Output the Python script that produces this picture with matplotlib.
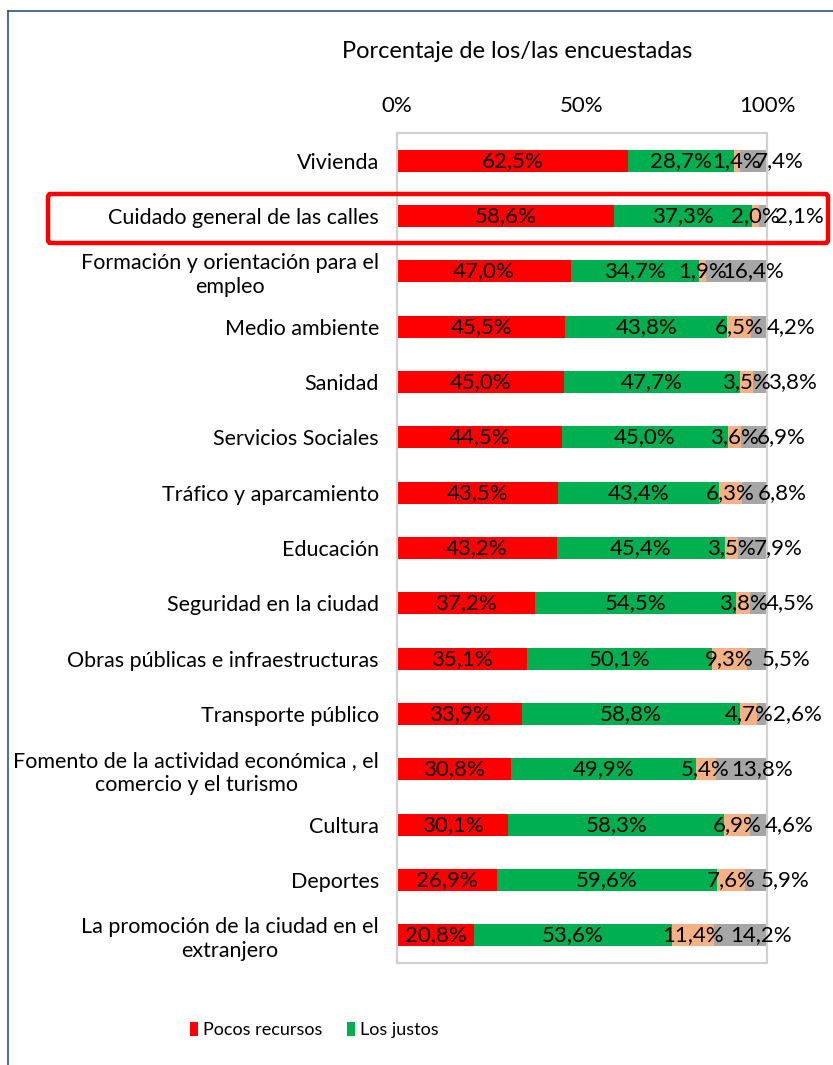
import matplotlib
matplotlib.use("Agg")
import numpy as np
import matplotlib.pyplot as plt
from matplotlib.patches import FancyBboxPatch
from matplotlib.lines import Line2D

plt.rcParams['font.family'] = ['Lato', 'DejaVu Sans']

categories = [
    "Vivienda",
    "Cuidado general de las calles",
    "Formación y orientación para el\nempleo",
    "Medio ambiente",
    "Sanidad",
    "Servicios Sociales",
    "Tráfico y aparcamiento",
    "Educación",
    "Seguridad en la ciudad",
    "Obras públicas e infraestructuras",
    "Transporte público",
    "Fomento de la actividad económica , el\ncomercio y el turismo",
    "Cultura",
    "Deportes",
    "La promoción de la ciudad en el\nextranjero",
]
pocos = [62.5, 58.6, 47.0, 45.5, 45.0, 44.5, 43.5, 43.2, 37.2, 35.1, 33.9, 30.8, 30.1, 26.9, 20.8]
justos = [28.7, 37.3, 34.7, 43.8, 47.7, 45.0, 43.4, 45.4, 54.5, 50.1, 58.8, 49.9, 58.3, 59.6, 53.6]
muchos = [1.4, 2.0, 1.9, 6.5, 3.5, 3.6, 6.3, 3.5, 3.8, 9.3, 4.7, 5.4, 6.9, 7.6, 11.4]
nsnc = [7.4, 2.1, 16.4, 4.2, 3.8, 6.9, 6.8, 7.9, 4.5, 5.5, 2.6, 13.8, 4.6, 5.9, 14.2]

series = [
    ("Pocos recursos", pocos, "#ff0000"),
    ("Los justos", justos, "#00b050"),
    ("Muchos recursos", muchos, "#f4b183"),
    ("NS/NC", nsnc, "#a6a6a6"),
]
xticks = [0, 50, 100]
xtick_labels = ["0%", "50%", "100%"]

fig = plt.figure(figsize=(8.33, 10.65), dpi=100)
ax = fig.add_axes([0.4766, 0.0958, 0.4442, 0.7793])

y = np.arange(len(categories))
left = np.zeros(len(categories))
bars = []
for i, (name, vals, col) in enumerate(series):
    vals = np.array(vals)
    b = ax.barh(y, vals, left=left, height=0.4, color=col, label=name)
    bars.append(b)
    for yi, l, v in zip(y, left, vals):
        txt = f"{v:.1f}%".replace(".", ",")
        if i == 3:
            # grey labels sit just past the start of the segment
            ax.text(l + 4.2, yi, txt, ha='left', va='center', fontsize=16, color='black')
        else:
            ax.text(l + v / 2, yi, txt, ha='center', va='center', fontsize=16, color='black')
    left = left + vals

ax.set_xlim(0, 100)
ax.set_ylim(len(categories) - 0.5, -0.5)
ax.set_yticks(y)
ax.set_yticklabels(categories, fontsize=15.5, multialignment='center')
ax.set_xticks(xticks)
ax.set_xticklabels(xtick_labels, fontsize=16)
ax.xaxis.tick_top()
ax.tick_params(axis='both', length=0)
ax.tick_params(axis='x', pad=12)
ax.tick_params(axis='y', pad=13)
for sp in ax.spines.values():
    sp.set_color('#d0d0d0')
    sp.set_linewidth(1.5)

fig.text(517 / 833, 1 - 52 / 1065, "Porcentaje de los/las encuestadas",
         ha='center', va='center', fontsize=17)

# outer chart frame (left and top edges visible)
fig.add_artist(Line2D([8 / 833, 8 / 833], [0, 1 - 11 / 1065], color='#2f528f', lw=1.2))
fig.add_artist(Line2D([8 / 833, 1], [1 - 11 / 1065, 1 - 11 / 1065], color='#2f528f', lw=1.2))

# highlight box
fig.add_artist(FancyBboxPatch((48 / 833, 1 - 243 / 1065), (828 - 48) / 833, (243 - 194) / 1065,
                              boxstyle="round,pad=0,rounding_size=0.003",
                              fill=False, edgecolor='#ff0000', lw=3.2))

fig.legend(handles=[bars[0], bars[1]], labels=["Pocos recursos", "Los justos"],
           loc='center left', bbox_to_anchor=(190 / 833, 1 - 1030 / 1065), ncol=2,
           frameon=False, borderpad=0, borderaxespad=0,
           handlelength=0.45, handleheight=0.8,
           handletextpad=0.25, columnspacing=1.4,
           prop={'family': ['Lato'], 'size': 13})

fig.savefig("out.png", dpi=100)
